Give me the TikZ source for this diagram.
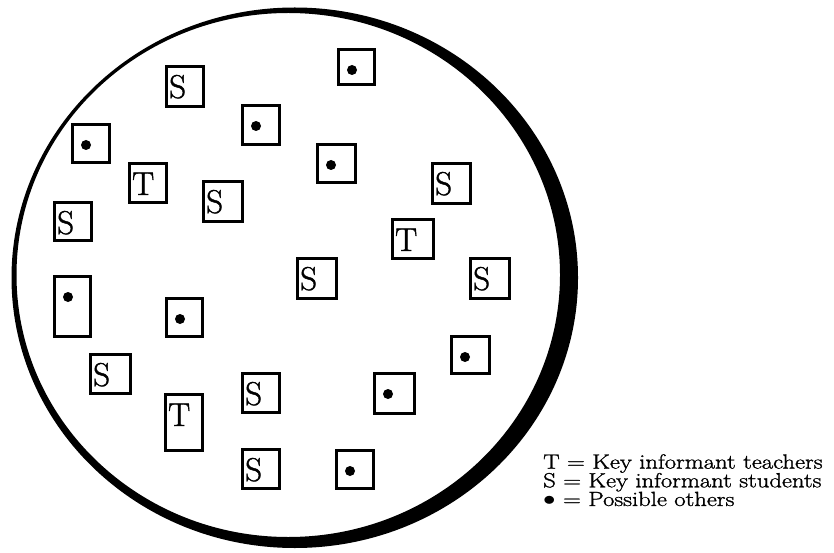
\documentclass[tikz,border=0pt]{standalone}
\usepackage{fontspec}
\newfontfamily\heavyfont[FakeBold=1.2]{Latin Modern Roman}
\tikzset{
  box/.style={draw, line width=3pt, inner sep=0pt, outer sep=0pt},
  lett/.style={anchor=base west, inner sep=0pt, font=\heavyfont\fontsize{33}{33}\selectfont},
  dotmark/.style={circle, fill, inner sep=0pt, minimum size=10pt},
  legend/.style={anchor=north west, inner sep=0pt, align=left, xscale=1.2,
    font=\heavyfont\fontsize{20.5}{18.7}\selectfont},
}
% letter box: name, left, top, right, bottom, letter
\newcommand{\lbox}[6]{%
  \pgfmathsetmacro\bw{#4-#2-3}\pgfmathsetmacro\bh{#5-#3-3}%
  \node[box, minimum width=\bw pt, minimum height=\bh pt] (#1) at ({(#2+#4)/2},{(#3+#5)/2}) {};
  \node[lett] (#1l) at ({#2+4},{#3+33}) {#6};
}
% dot box: name, left, top, right, bottom
\newcommand{\dbox}[5]{%
  \pgfmathsetmacro\bw{#4-#2-3}\pgfmathsetmacro\bh{#5-#3-3}%
  \node[box, minimum width=\bw pt, minimum height=\bh pt] (#1) at ({(#2+#4)/2},{(#3+#5)/2}) {};
  \node[dotmark] (#1d) at ({#2+15},{#3+22}) {};
}
\begin{document}
\begin{tikzpicture}[x=1pt,y=-1pt]
\useasboundingbox (0,0) rectangle (834,553);
% outer crescent-shaded ellipse
\fill[even odd rule] (294.75,277.75) ellipse [x radius=283.25pt, y radius=270.25pt]
                     (288.25,275) ellipse [x radius=271.75pt, y radius=262pt];
% boxes
\lbox{s1}{165}{65}{205}{108}{S}
\dbox{d1}{241}{104}{281}{146}
\dbox{d2}{316}{143}{357}{184}
\dbox{d3}{337}{48}{376}{86}
\dbox{d4}{71}{123}{111}{164}
\lbox{t1}{128}{162}{168}{204}{T}
\lbox{s2}{202}{180}{244}{223}{S}
\lbox{s3}{53}{201}{93}{242}{S}
\lbox{s4}{431}{162}{472}{205}{S}
\lbox{t2}{391}{218}{435}{260}{T}
\lbox{s5}{469}{257}{511}{300}{S}
\lbox{s6}{296}{257}{338}{300}{S}
\dbox{d5}{53}{275}{92}{338}
\dbox{d6}{165}{297}{204}{338}
\lbox{s7}{89}{353}{132}{395}{S}
\lbox{t3}{164}{393}{204}{452}{T}
\lbox{s8}{241}{372}{281}{414}{S}
\lbox{s9}{241}{448}{281}{490}{S}
\dbox{d7}{335}{449}{375}{490}
\dbox{d8}{373}{372}{416}{415}
\dbox{d9}{450}{335}{491}{375}
% legend
\node[legend] (leg) at (543,454) {T = Key informant teachers\\S = Key informant students\\$\bullet$ = Possible others};
\end{tikzpicture}
\end{document}
